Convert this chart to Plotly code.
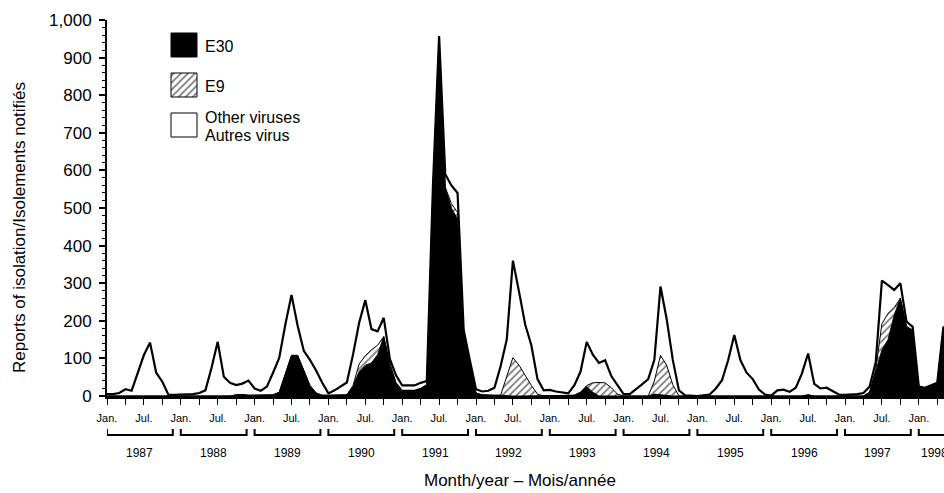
import plotly.graph_objects as go

# ---------------- data (monthly, Jan 1987 -> Jun 1998) ----------------
year_labels = ["1987", "1988", "1989", "1990", "1991", "1992",
               "1993", "1994", "1995", "1996", "1997", "1998"]

total = [
    5, 5, 8, 18, 14, 60, 109, 142, 62, 38, 3, 3,            # 1987
    3, 4, 5, 8, 15, 75, 144, 51, 35, 29, 33, 41,            # 1988
    20, 14, 25, 62, 101, 190, 269, 187, 120, 96, 68, 35,    # 1989
    7, 15, 25, 36, 110, 195, 255, 178, 172, 208, 98, 55,    # 1990
    28, 28, 28, 35, 40, 560, 957, 590, 560, 540, 175, 95,   # 1991
    18, 12, 14, 22, 79, 150, 360, 277, 190, 135, 45, 15,    # 1992
    16, 12, 10, 7, 29, 65, 144, 110, 88, 95, 53, 29,        # 1993
    5, 5, 17, 31, 45, 96, 291, 205, 96, 15, 2, 0,           # 1994
    0, 2, 4, 20, 42, 95, 162, 95, 62, 45, 17, 4,            # 1995
    1, 15, 17, 11, 22, 60, 113, 32, 20, 22, 12, 4,          # 1996
    3, 3, 5, 8, 25, 90, 307, 295, 282, 300, 198, 184,       # 1997
    25, 22, 28, 35, 184, 160,                               # 1998
]

e30 = [
    0, 0, 0, 0, 0, 0, 0, 2, 2, 0, 0, 0,
    0, 0, 0, 0, 0, 0, 0, 0, 0, 3, 4, 2,
    2, 2, 3, 3, 10, 60, 108, 108, 67, 28, 8, 2,
    2, 2, 3, 3, 25, 65, 82, 88, 110, 158, 80, 35,
    15, 15, 15, 20, 30, 550, 950, 555, 500, 470, 170, 90,
    8, 3, 2, 2, 2, 0, 0, 0, 0, 0, 0, 0,
    0, 0, 0, 0, 2, 10, 25, 10, 0, 0, 0, 0,
    0, 0, 0, 0, 0, 5, 3, 0, 0, 0, 0, 0,
    0, 0, 0, 0, 0, 0, 0, 0, 0, 0, 0, 0,
    0, 0, 0, 0, 0, 0, 3, 0, 0, 0, 0, 0,
    0, 0, 0, 0, 10, 65, 122, 150, 215, 260, 185, 175,
    25, 22, 28, 35, 184, 160,
]

e9 = [
    0, 0, 0, 0, 0, 0, 0, 0, 0, 0, 0, 0,
    0, 0, 0, 0, 0, 0, 0, 0, 0, 0, 0, 0,
    0, 0, 0, 0, 0, 0, 0, 0, 0, 0, 0, 0,
    0, 0, 0, 0, 3, 20, 25, 35, 25, 0, 8, 0,
    0, 0, 0, 0, 0, 0, 0, 0, 12, 18, 0, 0,
    0, 0, 0, 0, 0, 50, 102, 82, 55, 28, 5, 0,
    0, 0, 0, 0, 0, 0, 3, 25, 36, 35, 22, 5,
    0, 0, 0, 0, 0, 35, 105, 82, 30, 0, 0, 0,
    0, 0, 0, 0, 0, 0, 0, 0, 0, 0, 0, 0,
    0, 0, 0, 0, 0, 0, 0, 0, 0, 0, 0, 0,
    0, 0, 0, 0, 0, 5, 70, 70, 20, 0, 0, 0,
    0, 0, 0, 0, 0, 0,
]

legend_labels = ["E30", "E9", "Other viruses", "Autres virus"]
y_ticks = list(range(0, 1001, 100))

# ---------------- figure ----------------
FONT = "Liberation Sans, Arial, Helvetica, sans-serif"
W, H = 944, 493
ML, MR, MT, MB = 107, 0, 20, 97
PX_PER_MONTH = 6.15
HATCH = dict(shape="/", fgcolor="black", bgcolor="white", size=5, solidity=0.35)

n = len(total)
months = list(range(n))
e9_top = [a + b for a, b in zip(e30, e9)]
x_max = (W - ML - MR) / PX_PER_MONTH

fig = go.Figure()
fig.add_trace(go.Scatter(
    x=months, y=e30, mode="lines", line=dict(color="black", width=1),
    fill="tozeroy", fillcolor="black", hoverinfo="skip", showlegend=False))
fig.add_trace(go.Scatter(
    x=months, y=e9_top, mode="lines", line=dict(color="black", width=1),
    fill="tonexty", fillcolor="white", fillpattern=HATCH,
    hoverinfo="skip", showlegend=False))
fig.add_trace(go.Scatter(
    x=months, y=total, mode="lines", line=dict(color="black", width=2.2),
    hoverinfo="skip", showlegend=False))

# legend swatches on an overlay axis measured in pixels
def box(x0, y0, x1, y1):
    return [x0, x1, x1, x0, x0], [y0, y0, y1, y1, y0]

sw = [(171, 33, 197, 57), (171, 73, 197, 97), (171, 113, 197, 137)]
bx, by = box(*sw[0])
fig.add_trace(go.Scatter(x=bx, y=by, xaxis="x2", yaxis="y2", mode="lines",
                         line=dict(color="black", width=1), fill="toself",
                         fillcolor="black", hoverinfo="skip", showlegend=False))
bx, by = box(*sw[1])
fig.add_trace(go.Scatter(x=bx, y=by, xaxis="x2", yaxis="y2", mode="lines",
                         line=dict(color="black", width=1), fill="toself",
                         fillcolor="white", fillpattern=HATCH,
                         hoverinfo="skip", showlegend=False))
bx, by = box(*sw[2])
fig.add_trace(go.Scatter(x=bx, y=by, xaxis="x2", yaxis="y2", mode="lines",
                         line=dict(color="black", width=1), fill="toself",
                         fillcolor="white", hoverinfo="skip", showlegend=False))

annotations = []
for txt, yy in zip(legend_labels, [46, 86, 117, 135]):
    annotations.append(dict(x=204, y=yy, xref="x2", yref="y2", text=txt,
                            showarrow=False, xanchor="left", yanchor="middle",
                            borderpad=0,
                            font=dict(family=FONT, size=16, color="black")))

# x tick labels
tickvals = list(range(0, n, 3))
ticktext = ["Jan." if m % 12 == 0 else ("Jul." if m % 12 == 6 else "") for m in tickvals]

# year brackets + labels (last bracket limited to the months that have data)
plot_h = H - MT - MB
def py(p):
    return (H - MB - p) / plot_h

shapes = []
for i, yl in enumerate(year_labels):
    x0 = 12 * i
    x1 = min(12 * i + 10.7, n - 1)
    shapes.append(dict(type="path", xref="x", yref="paper",
                       path=f"M {x0},{py(429)} L {x0},{py(435)} L {x1},{py(435)} L {x1},{py(429)}",
                       line=dict(color="black", width=2)))
    annotations.append(dict(x=(x0 + x1) / 2, y=py(453), xref="x", yref="paper",
                            text=yl, showarrow=False, xanchor="center", yanchor="middle",
                            font=dict(family=FONT, size=12, color="black")))

annotations.append(dict(x=(520 - ML) / (W - ML - MR), y=py(481), xref="paper", yref="paper",
                        text="Month/year – Mois/année", showarrow=False,
                        xanchor="center", yanchor="middle",
                        font=dict(family=FONT, size=17, color="black")))
annotations.append(dict(x=(19 - ML) / (W - ML - MR), y=py(228), xref="paper", yref="paper",
                        text="Reports of isolation/Isolements notifiés", showarrow=False,
                        textangle=-90, xanchor="center", yanchor="middle",
                        font=dict(family=FONT, size=17, color="black")))

fig.update_layout(
    width=W, height=H,
    margin=dict(l=ML, r=MR, t=MT, b=MB, autoexpand=False),
    paper_bgcolor="white", plot_bgcolor="white",
    showlegend=False,
    shapes=shapes, annotations=annotations,
    xaxis=dict(range=[0, x_max], showgrid=False, zeroline=False,
               showline=True, linecolor="black", linewidth=2.5,
               ticks="outside", ticklen=6, tickwidth=1, tickcolor="black",
               tickvals=tickvals, ticktext=ticktext, ticklabelstandoff=4,
               tickfont=dict(family=FONT, size=11, color="black")),
    yaxis=dict(range=[0, 1000], showgrid=False, zeroline=False,
               showline=True, linecolor="black", linewidth=2,
               ticks="outside", ticklen=6, tickwidth=1.5, tickcolor="black",
               tickvals=y_ticks, tickformat=",d", ticklabelstandoff=4,
               tickfont=dict(family=FONT, size=17, color="black"),
               minor=dict(dtick=20, tick0=0, ticks="outside", ticklen=3,
                          tickwidth=1, tickcolor="black", showgrid=False)),
    xaxis2=dict(overlaying="x", range=[ML, W - MR], visible=False, fixedrange=True),
    yaxis2=dict(overlaying="y", range=[H - MB, MT], visible=False, fixedrange=True),
)

fig.write_html("out.html",
               config={"displayModeBar": False},
               post_script="document.body.style.margin='0px';"
                           "document.body.style.overflow='hidden';")
